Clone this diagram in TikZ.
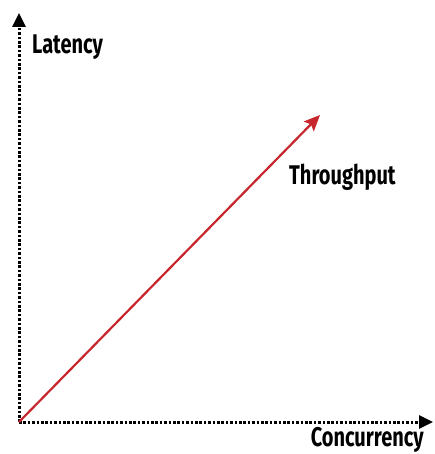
\documentclass[tikz,border=0pt]{standalone}
\usepackage{fontspec}
\setmainfont{Fira Sans}
\newfontfamily\axisfont[FakeStretch=0.74]{Fira Sans Bold}
\usetikzlibrary{arrows.meta}
\definecolor{tputred}{RGB}{200,38,45}
\tikzset{
  axis/.style={line width=3pt, dash pattern=on 2.6pt off 1.8pt, -{Triangle[length=14pt,width=13pt,sep=0pt]}},
  axislabel/.style={font=\axisfont\fontsize{27}{27}\selectfont, inner sep=0pt},
  tput/.style={tputred, line width=2.2pt, -{Stealth[length=16pt,width=14pt,inset=3pt]}}
}
\begin{document}
\begin{tikzpicture}[x=1pt,y=-1pt]
  \useasboundingbox (0,0) rectangle (434,454);
  \coordinate (origin) at (19,422);
  \coordinate (ytip) at (19,13);
  \coordinate (xtip) at (433,422);
  \coordinate (ttip) at (320,115);
  \node[axislabel, anchor=west] (latency) at (32,47) {Latency};
  \node[axislabel, anchor=west] (throughput) at (289,177) {Throughput};
  \node[axislabel, anchor=east] (concurrency) at (424,440) {Concurrency};
  \draw[axis] (origin) -- (ytip);
  \draw[axis] (origin) -- (xtip);
  \draw[tput] (origin) -- (ttip);
\end{tikzpicture}
\end{document}
